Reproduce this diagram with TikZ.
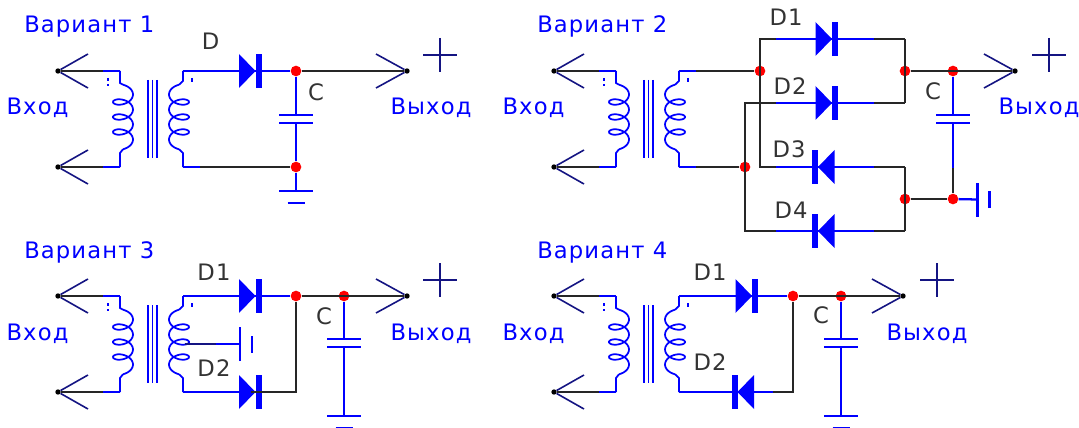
\documentclass[tikz,border=0pt]{standalone}
\usepackage{fontspec}
\setmainfont{DejaVu Sans}[LetterSpace=5]
\usetikzlibrary{calc}
\definecolor{wireblue}{RGB}{0,0,255}
\definecolor{tipblue}{RGB}{20,20,130}
\tikzset{
    wire/.style={draw=wireblue, line width=1.7pt},
    lead/.style={draw=black!85, line width=1.7pt},
    thin wire/.style={draw=wireblue, line width=1.3pt},
    tipline/.style={draw=tipblue, line width=1.2pt},
    jdot/.style={circle, fill=red, inner sep=0pt, minimum size=8pt},
    tipdot/.style={circle, fill=black, inner sep=0pt, minimum size=4pt},
    title/.style={anchor=base west, inner sep=0pt, text=wireblue, font=\fontsize{17}{20}\selectfont},
    iolabel/.style={anchor=base, inner sep=0pt, text=wireblue, font=\fontsize{17}{20}\selectfont},
    partlabel/.style={anchor=base, inner sep=0pt, text=black!80, font=\fontsize{17}{20}\selectfont},
    pics/diode/.style={code={
        \coordinate (-c) at (0,0);
        \fill[wireblue] (-11.5,-17) -- (5,0) -- (-11.5,17) -- cycle;
        \fill[wireblue] (5,-17) rectangle (11,17);
    }},
    pics/capacitor/.style={code={
        \coordinate (-t) at (0,-4);
        \coordinate (-b) at (0,4);
        \draw[wire] (-17,-4) -- (17,-4);
        \draw[wire] (-17,4) -- (17,4);
    }},
    pics/earth/.style={code={
        \coordinate (-t) at (0,0);
        \draw[wire] (-17,0) -- (17,0);
        \draw[wire] (-8.5,12) -- (8.5,12);
    }},
}
\begin{document}
\begin{tikzpicture}[x=0.75pt, y=-0.75pt]
    \useasboundingbox (0,0) rectangle (1079,428);

    % Input side: the same in all four variants
    \foreach \name/\dx/\dy/\num/\tx in {va/0/0/1/24, vb/496/0/2/41, vc/0/225/3/24, vd/496/225/4/41} {
        \begin{scope}[shift={(\dx,\dy)}]
            \node[title] (\name-title) at (\tx,33) {Вариант \num};
            \node[iolabel] (\name-in) at (37.5,115) {Вход};

            % Input terminals
            \foreach \i/\yy in {1/71, 2/167} {
                \node[tipdot] (\name-tip\i) at (58,\yy) {};
                \coordinate (\name-p\i) at (103,\yy);
                \coordinate (\name-q\i) at (120,\yy);
                \coordinate (\name-s\i) at (183,\yy);
                \coordinate (\name-r\i) at (200,\yy);
                \draw[tipline] ($(\name-tip\i)+(30,-17)$) -- (\name-tip\i) -- ($(\name-tip\i)+(30,17)$);
                \draw[lead] (\name-tip\i) -- (\name-p\i);
                \draw[wire] (\name-p\i) -- (\name-q\i);
            }

            % Primary winding
            \draw[thin wire] (\name-q1) -- (120,83) -- (123,84.75);
            \draw[thin wire] plot[domain=-90:1170, samples=90, smooth] ({123+10*cos(\x)},{94.5+\x/24+6*sin(\x)});
            \draw[thin wire] (123,149.25) -- (120,153) -- (\name-q2);
            \draw[thin wire] (108,78) -- (108,81) (108,84) -- (108,86);

            % Core
            \foreach \cx in {148,152.5,157} {
                \draw[thin wire] (\cx,80) -- (\cx,158);
            }

            % Secondary winding
            \draw[thin wire] (\name-s1) -- (183,81) -- (179,84.75);
            \draw[thin wire] plot[domain=-90:1170, samples=90, smooth] ({179-10*cos(\x)},{94.5+\x/24+6*sin(\x)});
            \draw[thin wire] (179,149.25) -- (183,153) -- (\name-s2);
            \draw[thin wire] (192,78) -- (192,82);
        \end{scope}
    }

    % Output terminals
    \foreach \name/\tipx/\tipy/\lx/\ly/\px/\py in {va/407/71/431/115/440/55, vb/1015/71/1039/115/1049/55, vc/407/296/431/340/440/280, vd/903/296/927/340/937/280} {
        \node[tipdot] (\name-out) at (\tipx,\tipy) {};
        \draw[tipline] ($(\name-out)+(-31,-17)$) -- (\name-out) -- ($(\name-out)+(-31,17)$);
        \node[iolabel] (\name-exit) at (\lx,\ly) {Выход};
        \draw[tipline] (\px-17,\py) -- (\px+17,\py) (\px,\py-17) -- (\px,\py+17);
    }

    % Variant 1
    \node[jdot] (va-j1) at (296,71) {};
    \node[jdot] (va-j2) at (296,167) {};
    \pic (va-d) at (250.5,71) {diode};
    \pic (va-cap) at (296,119) {capacitor};
    \pic (va-gnd) at (296,191) {earth};
    \draw[wire] (va-s1) -- (va-d-c) -- (va-j1);
    \draw[wire] (va-s2) -- (va-r2);
    \draw[lead] (va-r2) -- (va-j2);
    \draw[lead] (va-j1) -- (va-out);
    \draw[wire] (va-j1) -- (va-cap-t);
    \draw[wire] (va-cap-b) -- (va-j2);
    \draw[wire] (va-j2) -- (va-gnd-t);
    \node[partlabel] (va-dl) at (210.5,50) {D};
    \node[partlabel] (va-cl) at (316,101) {C};

    % Variant 2
    \node[jdot] (vb-j1) at (760,71) {};
    \node[jdot] (vb-j2) at (905,71) {};
    \node[jdot] (vb-j3) at (953,71) {};
    \node[jdot] (vb-j4) at (745,167) {};
    \node[jdot] (vb-j5) at (905,199) {};
    \node[jdot] (vb-j6) at (953,199) {};
    \foreach \d/\yy/\rot/\cx in {d1/39/0/827, d2/103/0/827, d3/167/180/823, d4/231/180/823} {
        \pic[rotate=\rot] (vb-\d) at (\cx,\yy) {diode};
        \coordinate (vb-\d-l) at (776,\yy);
        \coordinate (vb-\d-r) at (874,\yy);
        \coordinate (vb-\d-e) at (905,\yy);
        \draw[wire] (vb-\d-l) -- (vb-\d-c) -- (vb-\d-r);
        \draw[lead] (vb-\d-r) -- (vb-\d-e);
    }
    \coordinate (vb-c1) at (760,39);
    \coordinate (vb-c2) at (760,167);
    \coordinate (vb-c3) at (745,103);
    \coordinate (vb-c4) at (745,231);
    \coordinate (vb-c5) at (953,168);
    \draw[wire] (vb-s1) -- (vb-r1);
    \draw[wire] (vb-s2) -- (vb-r2);
    \draw[lead] (vb-r1) -- (vb-j1);
    \draw[lead] (vb-r2) -- (vb-j4);
    \draw[lead] (vb-d1-l) -- (vb-c1) -- (vb-c2) -- (vb-d3-l);
    \draw[lead] (vb-d2-l) -- (vb-c3) -- (vb-c4) -- (vb-d4-l);
    \draw[lead] (vb-d1-e) -- (vb-d2-e);
    \draw[lead] (vb-d3-e) -- (vb-d4-e);
    \draw[lead] (vb-j2) -- (vb-out);
    \draw[lead] (vb-j5) -- (vb-j6);
    \pic (vb-cap) at (953,119) {capacitor};
    \pic[rotate=90] (vb-gnd) at (977.5,199.5) {earth};
    \draw[wire] (vb-j3) -- (vb-cap-t);
    \draw[wire] (vb-cap-b) -- (vb-c5);
    \draw[lead] (vb-c5) -- (vb-j6);
    \draw[wire] (vb-j6) -- (vb-gnd-t);
    \node[partlabel] (vb-dl1) at (786,26) {D1};
    \node[partlabel] (vb-dl2) at (790,95) {D2};
    \node[partlabel] (vb-dl3) at (789,157) {D3};
    \node[partlabel] (vb-dl4) at (791,218) {D4};
    \node[partlabel] (vb-cl) at (933,100) {C};

    % Variant 3
    \node[jdot] (vc-j1) at (296,296) {};
    \node[jdot] (vc-j2) at (344,296) {};
    \pic (vc-d1) at (250.5,296) {diode};
    \pic (vc-d2) at (250.5,392) {diode};
    \pic (vc-cap) at (344,343) {capacitor};
    \pic (vc-gnd) at (344,416) {earth};
    \pic[rotate=90] (vc-tap) at (240,344) {earth};
    \coordinate (vc-c1) at (296,392);
    \coordinate (vc-t1) at (185,344);
    \coordinate (vc-t2) at (216,344);
    \draw[wire] (vc-s1) -- (vc-d1-c) -- (vc-j1);
    \draw[wire] (vc-s2) -- (vc-d2-c);
    \draw[lead] (vc-d2-c) -- (vc-c1) -- (vc-j1);
    \draw[lead] (vc-j1) -- (vc-out);
    \draw[wire] (vc-j2) -- (vc-cap-t);
    \draw[wire] (vc-cap-b) -- (vc-gnd-t);
    \draw[tipline] (vc-t1) -- (vc-t2);
    \draw[wire] (vc-t2) -- (vc-tap-t);
    \node[partlabel] (vc-dl1) at (214,280) {D1};
    \node[partlabel] (vc-dl2) at (214,376) {D2};
    \node[partlabel] (vc-cl) at (324,324) {C};

    % Variant 4
    \node[jdot] (vd-j1) at (793,296) {};
    \node[jdot] (vd-j2) at (841,296) {};
    \pic (vd-d1) at (747,296) {diode};
    \pic[rotate=180] (vd-d2) at (742.5,392) {diode};
    \pic (vd-cap) at (841,343) {capacitor};
    \pic (vd-gnd) at (841,416) {earth};
    \coordinate (vd-c1) at (793,392);
    \coordinate (vd-c2) at (773,392);
    \draw[wire] (vd-s1) -- (vd-d1-c) -- (vd-j1);
    \draw[wire] (vd-s2) -- (vd-d2-c) -- (vd-c2);
    \draw[lead] (vd-c2) -- (vd-c1) -- (vd-j1);
    \draw[lead] (vd-j1) -- (vd-out);
    \draw[wire] (vd-j2) -- (vd-cap-t);
    \draw[wire] (vd-cap-b) -- (vd-gnd-t);
    \node[partlabel] (vd-dl1) at (710,280) {D1};
    \node[partlabel] (vd-dl2) at (710,370) {D2};
    \node[partlabel] (vd-cl) at (821,323) {C};
\end{tikzpicture}
\end{document}
